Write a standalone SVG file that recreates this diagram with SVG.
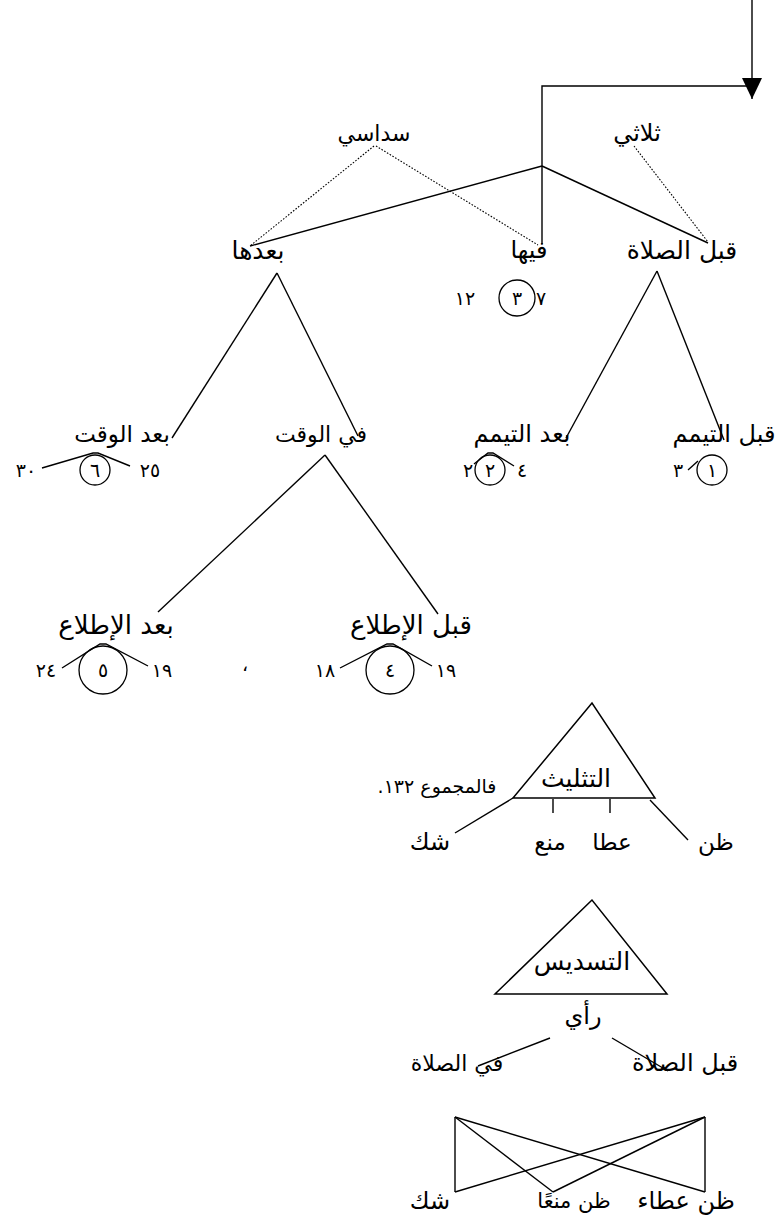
<svg xmlns="http://www.w3.org/2000/svg" width="776" height="1221" viewBox="0 0 776 1221">
<style>
.t{font-family:"DejaVu Sans",sans-serif;font-size:23px;fill:#000;text-anchor:middle;direction:rtl;dominant-baseline:central}
.n{font-family:"DejaVu Sans",sans-serif;font-size:19px;fill:#000;text-anchor:middle;dominant-baseline:central}
.ln{stroke:#000;stroke-width:1.4;fill:none}
.dt{stroke:#000;stroke-width:1.1;stroke-dasharray:1.6 1.6;fill:none}
.c{stroke:#000;stroke-width:1.3;fill:none}
.tri{stroke:#000;stroke-width:1.5;fill:none;stroke-linejoin:miter}
</style>
<defs>
<marker id="ah" viewBox="0 0 21 20" refX="21" refY="10" markerWidth="21" markerHeight="20" markerUnits="userSpaceOnUse" orient="auto">
<path d="M0,0 L21,10 L0,20 z" fill="#000"/>
</marker>
</defs>
<rect width="776" height="1221" fill="#fff"/>
<g id="connectors">
<line class="ln" x1="752" y1="0" x2="752" y2="99" marker-end="url(#ah)"/>
<path class="ln" d="M748,86 H542 V244"/>
<line class="ln" x1="542" y1="166" x2="250" y2="246"/>
<line class="ln" x1="542" y1="166" x2="708" y2="243"/>
<line class="dt" x1="374" y1="146" x2="250" y2="246"/>
<line class="dt" x1="376" y1="146" x2="538" y2="245"/>
<line class="dt" x1="634" y1="146" x2="708" y2="242"/>
<line class="ln" x1="277" y1="273" x2="172" y2="438"/>
<line class="ln" x1="277" y1="273" x2="358" y2="436"/>
<line class="ln" x1="657" y1="271" x2="566" y2="438"/>
<line class="ln" x1="657" y1="271" x2="724" y2="440"/>
<line class="ln" x1="325" y1="455" x2="158" y2="612"/>
<line class="ln" x1="325" y1="455" x2="438" y2="614"/>
<polyline class="ln" points="42,468 93,453 98,453 130,466"/>
<polyline class="ln" points="474,464 488,453 493,453 514,466"/>
<line class="ln" x1="688" y1="470" x2="698" y2="461"/>
<polyline class="ln" points="62,668 100,644 106,644 148,666"/>
<polyline class="ln" points="340,668 387,644 393,644 432,666"/>
<line class="ln" x1="513" y1="798" x2="455" y2="833"/>
<line class="ln" x1="650" y1="800" x2="688" y2="840"/>
<line class="ln" x1="553" y1="799" x2="553" y2="813"/>
<line class="ln" x1="610" y1="799" x2="610" y2="813"/>
<line class="ln" x1="550" y1="1038" x2="478" y2="1066"/>
<line class="ln" x1="612" y1="1038" x2="668" y2="1071"/>
<line class="ln" x1="455" y1="1117" x2="455" y2="1192"/>
<line class="ln" x1="455" y1="1117" x2="553" y2="1192"/>
<line class="ln" x1="455" y1="1117" x2="705" y2="1192"/>
<line class="ln" x1="705" y1="1117" x2="705" y2="1192"/>
<line class="ln" x1="705" y1="1117" x2="553" y2="1192"/>
<line class="ln" x1="705" y1="1117" x2="455" y2="1192"/>
</g>
<g id="n-thulathi"><text class="t" x="637" y="133" style="font-size:24px">ثلاثي</text></g>
<g id="n-sudasi"><text class="t" x="374" y="133" style="font-size:22px">سداسي</text></g>
<g id="n-baadaha"><text class="t" x="258" y="250" style="font-size:25px">بعدها</text></g>
<g id="n-fiha"><text class="t" x="529" y="250" style="font-size:24px">فيها</text></g>
<g id="n-qabl-salat"><text class="t" x="682" y="250" style="font-size:25px">قبل الصلاة</text></g>
<g id="n-g3"><text class="n" x="465" y="298">١٢</text><circle class="c" cx="517" cy="298" r="18"/><text class="n" x="517" y="298">٣</text><text class="n" x="541" y="298">٧</text></g>
<g id="n-baad-waqt"><text class="t" x="122" y="434">بعد الوقت</text></g>
<g id="n-fi-waqt"><text class="t" x="321" y="434" style="font-size:22px">في الوقت</text></g>
<g id="n-baad-tayammum"><text class="t" x="522" y="434" style="font-size:24px">بعد التيمم</text></g>
<g id="n-qabl-tayammum"><text class="t" x="724" y="434" style="font-size:24px">قبل التيمم</text></g>
<g id="n-g6"><text class="n" x="26" y="470">٣٠</text><circle class="c" cx="95" cy="470" r="15"/><text class="n" x="95" y="470">٦</text><text class="n" x="150" y="470">٢٥</text></g>
<g id="n-g2"><text class="n" x="468" y="470">٢</text><circle class="c" cx="490" cy="470" r="15"/><text class="n" x="490" y="470">٢</text><text class="n" x="522" y="470">٤</text></g>
<g id="n-g1"><text class="n" x="678" y="470">٣</text><circle class="c" cx="712" cy="470" r="15"/><text class="n" x="712" y="470">١</text></g>
<g id="n-baad-ittila"><text class="t" x="116" y="625" style="font-size:26px">بعد الإطلاع</text></g>
<g id="n-qabl-ittila"><text class="t" x="411" y="625" style="font-size:26px">قبل الإطلاع</text></g>
<g id="n-g5"><text class="n" x="46" y="670">٢٤</text><circle class="c" cx="103" cy="670" r="24"/><text class="n" x="103" y="670">٥</text><text class="n" x="162" y="670">١٩</text></g>
<g id="n-comma"><text class="n" x="245" y="664">،</text></g>
<g id="n-g4"><text class="n" x="325" y="670">١٨</text><circle class="c" cx="390" cy="670" r="24"/><text class="n" x="390" y="670">٤</text><text class="n" x="446" y="670">١٩</text></g>
<g id="n-tathlith"><polygon class="tri" points="592,703 513,798 655,798"/><text class="t" x="576" y="778" style="font-size:25px">التثليث</text></g>
<g id="n-majmu"><text class="t" x="437" y="786" style="font-size:19px">فالمجموع ١٣٢.</text></g>
<g id="n-shakk1"><text class="t" x="430" y="842" style="font-size:24px">شك</text></g>
<g id="n-mana"><text class="t" x="550" y="842">منع</text></g>
<g id="n-ata"><text class="t" x="612" y="842">عطا</text></g>
<g id="n-zann1"><text class="t" x="716" y="842">ظن</text></g>
<g id="n-tasdis"><polygon class="tri" points="592,900 495,994 667,994"/><text class="t" x="582" y="961" style="font-size:25px">التسديس</text></g>
<g id="n-ray"><text class="t" x="583" y="1016" style="font-size:24px">رأي</text></g>
<g id="n-fi-salat"><text class="t" x="457" y="1063" style="font-size:22px">في الصلاة</text></g>
<g id="n-qabl-salat2"><text class="t" x="685" y="1063" style="font-size:24px">قبل الصلاة</text></g>
<g id="n-shakk2"><text class="t" x="430" y="1201" style="font-size:24px">شك</text></g>
<g id="n-zann-mana"><text class="t" x="574" y="1201" style="font-size:21px">ظن منعًا</text></g>
<g id="n-zann-ata"><text class="t" x="686" y="1201" style="font-size:24px">ظن عطاء</text></g>
</svg>
